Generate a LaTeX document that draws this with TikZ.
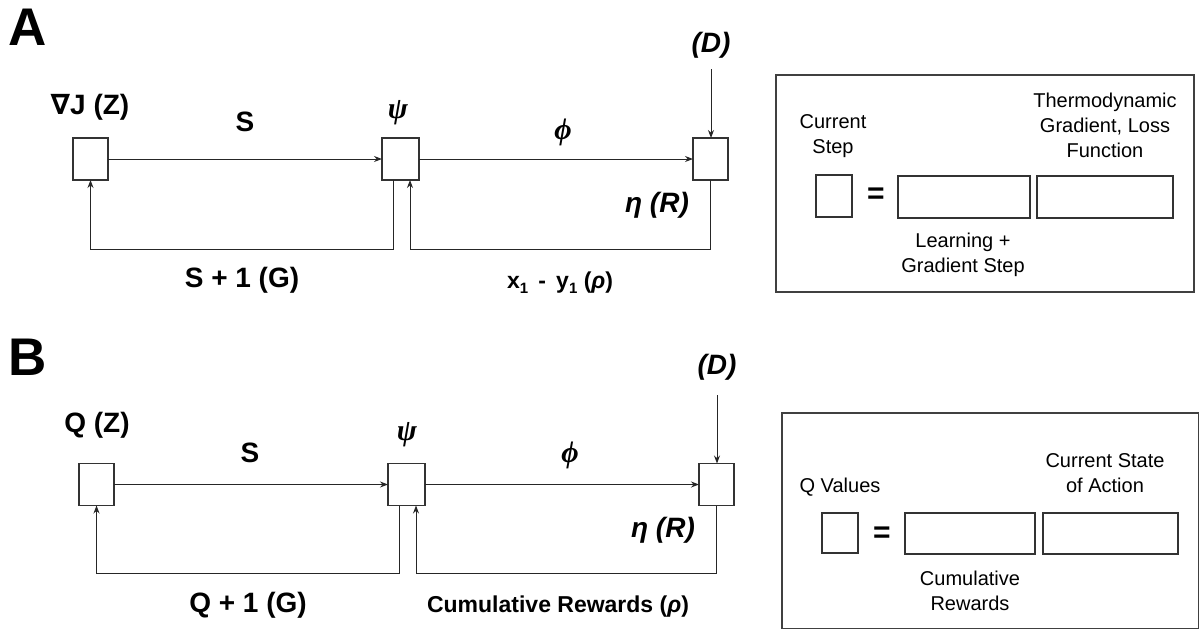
\documentclass[tikz,border=0pt]{standalone}
\usepackage{fontspec}
\setmainfont{Liberation Sans}
\newfontfamily\nablafont{DejaVu Sans}
\newfontfamily\grkfont{Liberation Serif}
\usetikzlibrary{arrows.meta}

\newcommand{\lowsub}[1]{\raisebox{-5pt}{\fontsize{15}{16}\selectfont #1}}

\begin{document}
\begin{tikzpicture}[x=1pt,y=-1pt,
  every node/.style={inner sep=0pt, outer sep=0pt},
  panel/.style={font=\fontsize{53}{60}\selectfont\bfseries},
  lbl/.style={font=\fontsize{28}{32}\selectfont\bfseries},
  lbli/.style={font=\fontsize{28}{32}\selectfont\bfseries\itshape},
  greek/.style={font=\fontsize{30}{32}\selectfont\grkfont\bfseries\itshape},
  lblsm/.style={font=\fontsize{23}{28}\selectfont\bfseries},
  txt/.style={font=\fontsize{20}{25}\selectfont, align=center},
  box/.style={draw=black!80, line width=1.2pt, minimum width=35pt, minimum height=42pt},
  wbox/.style={draw=black!80, line width=1.2pt, minimum width=132pt, minimum height=42pt},
  frame/.style={draw=black!75, line width=1.3pt},
  arr/.style={draw=black!85, line width=1pt, -{Stealth[length=8pt,width=6pt]}},
  eqsign/.style={font=\fontsize{30}{32}\selectfont\bfseries}
]
\useasboundingbox (0,0) rectangle (1200,630);

% ---------------- Panel A ----------------
\node[panel] (pA) at (28,27) {A};

\node[box] (a1) at (90.5,159) {};
\node[box, minimum width=37pt] (a2) at (400.5,159) {};
\node[box] (a3) at (710.5,159) {};

\node[lbl] (zA) at (90,107) {{\nablafont ∇}J (Z)};
\node[lbl] (sA) at (245,122) {S};
\node[greek] (psiA) at (398,113) {ψ};
\node[greek] (phiA) at (563,132) {ϕ};
\node[lbli] (dA) at (711,45) {(D)};
\node[lbli] (etaA) at (657,205) {η (R)};
\node[lbl] (gA) at (242,280) {S + 1 (G)};
\node[lblsm] (rhoA) at (560,283) {x\lowsub{1}\,\ -\ \,y\lowsub{1}\ ({\itshape ρ})};

\coordinate (dAtop) at (711,69);
\draw[arr] (a1) -- (a2);
\draw[arr] (a2) -- (a3);
\draw[arr] (dAtop) -- (dAtop |- a3.north);
\draw[arr] ([xshift=-7.5pt]a2.south) -- ++(0,69) -| (a1.south);
\draw[arr] (a3.south) -- ++(0,69) -| ([xshift=9.5pt]a2.south);

% equation frame A
\draw[frame] (776,75) rectangle (1194,292);
\node[box, minimum width=36pt] (lhsA) at (834,196) {};
\node[eqsign] (eqA) at (876,196) {=};
\node[wbox] (t1A) at (964,197) {};
\node[wbox, minimum width=136pt] (t2A) at (1105,197) {};
\node[txt] (cA) at (833,136) {Current\\Step};
\node[txt] (thA) at (1105,125) {Thermodynamic\\Gradient, Loss\\Function};
\node[txt] (lgA) at (963,255) {Learning +\\Gradient Step};

% ---------------- Panel B ----------------
\node[panel] (pB) at (28,357) {B};

\node[box] (b1) at (96.5,484.5) {};
\node[box, minimum width=37pt] (b2) at (406.5,484.5) {};
\node[box] (b3) at (716.5,484.5) {};

\node[lbl] (zB) at (97,425) {Q (Z)};
\node[lbl] (sB) at (250,453) {S};
\node[greek] (psiB) at (407,435) {ψ};
\node[greek] (phiB) at (570,455) {ϕ};
\node[lbli] (dB) at (717,367) {(D)};
\node[lbli] (etaB) at (663,530) {η (R)};
\node[lbl] (gB) at (248,605) {Q + 1 (G)};
\node[lblsm] (rhoB) at (558,607) {Cumulative Rewards ({\itshape ρ})};

\coordinate (dBtop) at (717,395);
\draw[arr] (b1) -- (b2);
\draw[arr] (b2) -- (b3);
\draw[arr] (dBtop) -- (dBtop |- b3.north);
\draw[arr] ([xshift=-7.5pt]b2.south) -- ++(0,68) -| (b1.south);
\draw[arr] (b3.south) -- ++(0,68) -| ([xshift=9.5pt]b2.south);

% equation frame B
\draw[frame] (782,413) rectangle (1198.5,628.5);
\node[box, minimum width=36pt, minimum height=40pt] (lhsB) at (840,533) {};
\node[eqsign] (eqB) at (882,535) {=};
\node[wbox, minimum width=130pt, minimum height=41pt] (t1B) at (970,533.5) {};
\node[wbox, minimum width=135pt, minimum height=41pt] (t2B) at (1110.5,533.5) {};
\node[txt] (qB) at (840,487) {Q Values};
\node[txt] (csB) at (1105,473) {Current State\\of Action};
\node[txt] (crB) at (970,591) {Cumulative\\Rewards};
\end{tikzpicture}
\end{document}
